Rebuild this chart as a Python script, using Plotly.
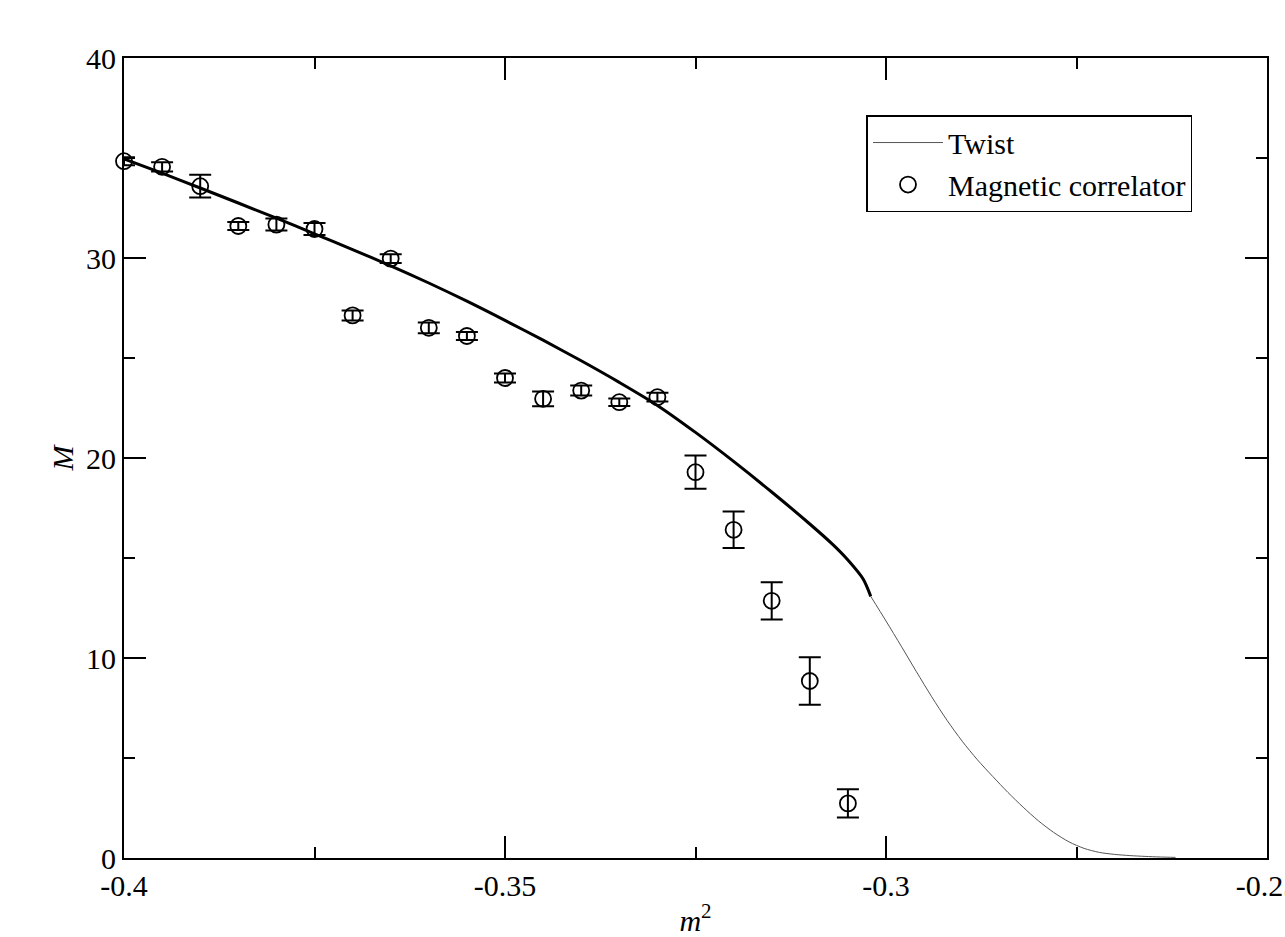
import plotly.graph_objects as go

# Magnetic correlator measurements: m^2, mass M and its error
m2_points = [-0.400, -0.395, -0.390, -0.385, -0.380, -0.375, -0.370, -0.365, -0.360, -0.355,
             -0.350, -0.345, -0.340, -0.335, -0.330, -0.325, -0.320, -0.315, -0.310, -0.305]
M_points = [34.84, 34.56, 33.59, 31.60, 31.67, 31.45, 27.13, 29.97, 26.51, 26.10,
            24.00, 22.96, 23.37, 22.79, 23.04, 19.29, 16.41, 12.86, 8.85, 2.73]
M_err = [0.20, 0.23, 0.57, 0.20, 0.30, 0.30, 0.25, 0.22, 0.27, 0.20,
         0.23, 0.37, 0.25, 0.19, 0.22, 0.83, 0.91, 0.93, 1.19, 0.71]

# Twist curve
twist_m2 = [-0.400, -0.395, -0.390, -0.385, -0.380, -0.375, -0.370, -0.365, -0.360, -0.355,
            -0.350, -0.345, -0.340, -0.335, -0.330, -0.325, -0.320, -0.315, -0.310, -0.307,
            -0.305, -0.303, -0.302, -0.300, -0.298, -0.296, -0.294, -0.292, -0.290, -0.288,
            -0.286, -0.284, -0.282, -0.280, -0.278, -0.276, -0.274, -0.272, -0.270, -0.268,
            -0.266, -0.264, -0.262]
twist_M = [34.95, 34.24, 33.50, 32.75, 31.99, 31.21, 30.42, 29.61, 28.75, 27.84,
           26.88, 25.89, 24.86, 23.78, 22.63, 21.28, 19.83, 18.30, 16.70, 15.68,
           14.90, 13.95, 13.08, 11.85, 10.59, 9.31, 8.06, 6.89, 5.84, 4.91,
           4.08, 3.28, 2.54, 1.86, 1.28, 0.81, 0.48, 0.28, 0.18, 0.12,
           0.08, 0.05, 0.03]

x_tickvals = [-0.4, -0.35, -0.3, -0.25]
x_ticktext = ["-0.4", "-0.35", "-0.3", "-0.25"]
y_tickvals = [0, 10, 20, 30, 40]
y_ticktext = ["0", "10", "20", "30", "40"]

SERIF = "Liberation Serif, Times New Roman, serif"
FS = 30

# the curve is drawn heavier where it is densely sampled (m^2 <= -0.302)
heavy = [(x, y) for x, y in zip(twist_m2, twist_M) if x <= -0.302]
light = [(x, y) for x, y in zip(twist_m2, twist_M) if x >= -0.302]

fig = go.Figure()
fig.add_trace(go.Scatter(
    x=[p[0] for p in light], y=[p[1] for p in light], mode="lines",
    line=dict(color="#555555", width=1, shape="spline", smoothing=0.8),
    name="Twist", legendgroup="twist", cliponaxis=False,
))
fig.add_trace(go.Scatter(
    x=[p[0] for p in heavy], y=[p[1] for p in heavy], mode="lines",
    line=dict(color="black", width=3, shape="spline", smoothing=0.8),
    name="Twist", legendgroup="twist", showlegend=False, cliponaxis=False,
))
fig.add_trace(go.Scatter(
    x=m2_points, y=M_points, mode="markers", name="Magnetic correlator",
    marker=dict(symbol="circle-open", size=16, color="black", line=dict(width=1.8, color="black")),
    error_y=dict(type="data", array=M_err, visible=True, color="black", thickness=2, width=11),
    cliponaxis=False,
))

axis_common = dict(
    showline=True, linecolor="black", linewidth=2, mirror="ticks",
    ticks="inside", ticklen=22, tickwidth=2, tickcolor="black",
    showgrid=False, zeroline=False, automargin=False,
    tickfont=dict(family=SERIF, size=FS, color="black"),
    ticklabeloverflow="allow",
)

fig.update_xaxes(
    range=[-0.4, -0.25], tickmode="array", tickvals=x_tickvals, ticktext=x_ticktext,
    minor=dict(ticks="inside", ticklen=11, tickwidth=2, tickcolor="black", dtick=0.025, tick0=-0.4, showgrid=False),
    title=dict(text="<i>m</i><sup>2</sup>", font=dict(family=SERIF, size=FS, color="black"), standoff=10),
    **axis_common,
)
fig.update_yaxes(
    range=[0, 40], tickmode="array", tickvals=y_tickvals, ticktext=y_ticktext,
    minor=dict(ticks="inside", ticklen=11, tickwidth=2, tickcolor="black", dtick=5, tick0=0, showgrid=False),
    title=dict(text="<i>M</i>", font=dict(family=SERIF, size=FS, color="black"), standoff=4),
    **axis_common,
)

fig.update_layout(
    width=1285, height=937, autosize=False,
    margin=dict(l=124, r=18, t=58, b=79, pad=0),
    paper_bgcolor="white", plot_bgcolor="white",
    legend=dict(
        x=0.6496, y=0.9287, xanchor="left", yanchor="top",
        bgcolor="white", bordercolor="black", borderwidth=1.5,
        font=dict(family=SERIF, size=FS, color="black"),
        itemwidth=70, tracegroupgap=0,
    ),
    showlegend=True,
)

fig.write_html("out.html")
